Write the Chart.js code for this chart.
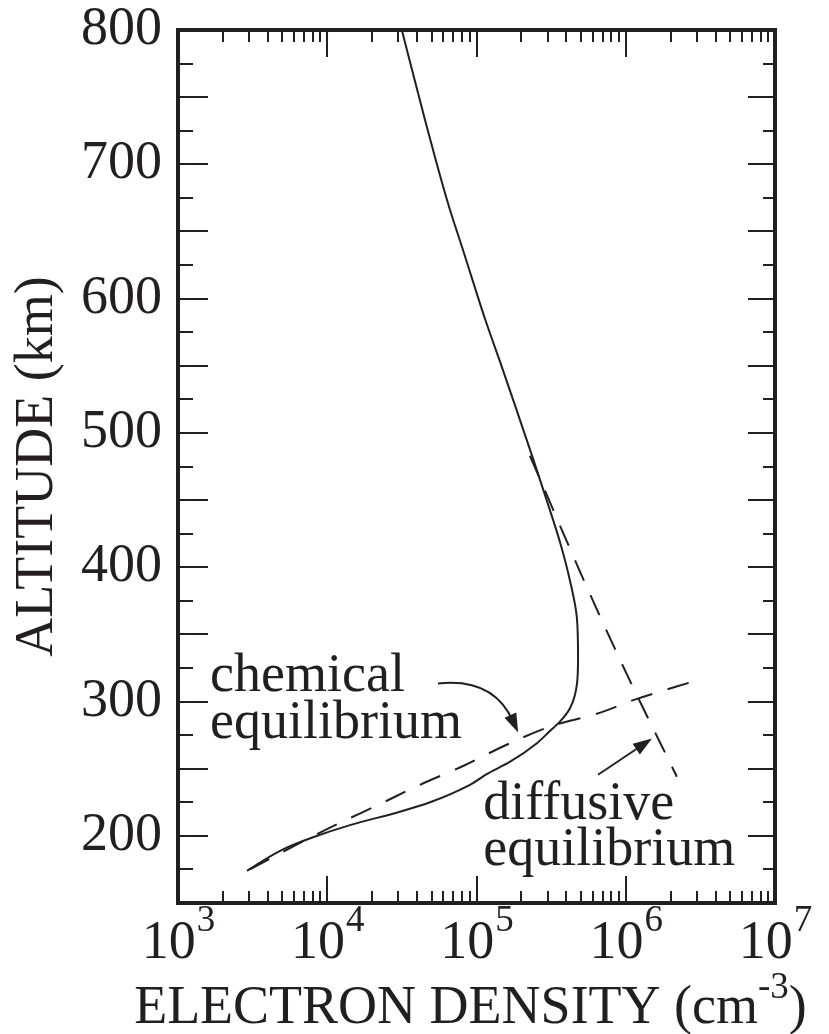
<!DOCTYPE html>
<html><head><meta charset="utf-8">
<script src="https://cdn.jsdelivr.net/npm/chart.js@4.4.1/dist/chart.umd.min.js"></script>
<style>html,body{margin:0;padding:0;background:#fff}#wrap{width:829px;height:1034px;position:relative}</style>
</head><body><div id="wrap"><canvas id="c" width="829" height="1034"></canvas></div>
<script>
// ---- data ----
const solidDensity = [3.16e4, 4.52e4, 6.44e4, 8.24e4, 1.14e5, 1.48e5, 1.87e5, 2.39e5, 2.97e5, 3.62e5, 4.23e5, 4.71e5, 4.79e5, 4.71e5, 4.23e5, 3.62e5, 3.10e5, 2.54e5, 1.67e5, 1.17e5, 9.04e4, 4.88e4, 3.07e4, 1.42e4, 8.04e3, 5.06e3, 2.90e3];
const solidAltitude = [800, 733, 671, 634, 585, 549, 516, 481, 449, 419, 390, 362, 332, 313, 295, 285, 278, 269, 255, 246, 238, 225, 218, 208, 199, 190, 174];
const chemDensity = [3.03e3, 7.78e3, 1.13e4, 2.19e4, 4.18e4, 8.13e4, 1.68e5, 3.46e5, 6.04e5, 1.19e6, 3.05e6];
const chemAltitude = [175, 199, 208, 223, 238, 252, 269, 283, 290, 302, 316];
const diffDensity = [2.28e5, 5.6e5, 1.02e6, 2.2e6];
const diffAltitude = [483, 383, 320, 244];
const xTickExponents = [3, 4, 5, 6, 7];
const yTickValues = [200, 300, 400, 500, 600, 700, 800];
const xTitleMain = 'ELECTRON DENSITY (cm';
const xTitleSup = '-3';
const xTitleEnd = ')';
const yTitle = 'ALTITUDE (km)';
const chemLabel = ['chemical', 'equilibrium'];
const diffLabel = ['diffusive', 'equilibrium'];

// annotation anchors in data coordinates [density, altitude]
const notes = {
  chemText: [1.64e3, 307.5],
  diffText: [1.11e5, 212.7],
  chemArrow: { from: [5.52e4, 313.4], ctrl: [1.30e5, 318], to: [1.90e5, 276.9] },
  diffArrow: { from: [6.52e5, 245.5], to: [1.50e6, 272.4] }
};

const INK = '#231f20';
const FONT = '"Liberation Serif", "Times New Roman", serif';

const pts = (xs, ys) => xs.map((v, i) => ({ x: v, y: ys[i] }));

const decor = {
  id: 'decor',
  afterDraw(chart) {
    const ctx = chart.ctx, xs = chart.scales.x, ys = chart.scales.y, ca = chart.chartArea;
    ctx.save();
    ctx.strokeStyle = INK; ctx.fillStyle = INK; ctx.lineCap = 'butt';
    // inward ticks
    ctx.lineWidth = 2;
    ctx.beginPath();
    for (let e = xTickExponents[0]; e < xTickExponents[xTickExponents.length - 1]; e++) {
      for (let m = 1; m <= 9; m++) {
        const v = m * Math.pow(10, e);
        if (m === 1 && e === xTickExponents[0]) continue;
        const px = Math.round(xs.getPixelForValue(v));
        const len = m === 1 ? 27 : 12;
        ctx.moveTo(px, ca.bottom); ctx.lineTo(px, ca.bottom - len);
        ctx.moveTo(px, ca.top); ctx.lineTo(px, ca.top + len);
      }
    }
    for (let v = ys.min + 25; v < ys.max; v += 25) {
      const py = Math.round(ys.getPixelForValue(v));
      const long = v % 50 === 0;
      ctx.moveTo(ca.left, py); ctx.lineTo(ca.left + (long ? 30 : 15), py);
      ctx.moveTo(ca.right, py); ctx.lineTo(ca.right - (long ? 27 : 12), py);
    }
    ctx.stroke();
    // frame
    ctx.lineWidth = 4;
    ctx.strokeRect(ca.left, ca.top, ca.right - ca.left, ca.bottom - ca.top);

    // x tick labels with superscript exponents
    ctx.textBaseline = 'alphabetic';
    ctx.textAlign = 'left';
    const big = '54px ' + FONT, small = '37px ' + FONT;
    xTickExponents.forEach(e => {
      const px = xs.getPixelForValue(Math.pow(10, e));
      ctx.font = big; const w1 = ctx.measureText('10').width;
      ctx.font = small; const w2 = ctx.measureText(String(e)).width;
      const x0 = px - (w1 + w2) / 2;
      ctx.font = big; ctx.fillText('10', x0, 958);
      ctx.font = small; ctx.fillText(String(e), x0 + w1 + 1, 931);
    });
    // x title
    ctx.font = big; const a = ctx.measureText(xTitleMain).width;
    ctx.font = small; const b = ctx.measureText(xTitleSup).width;
    ctx.font = big; const c = ctx.measureText(xTitleEnd).width;
    const tx0 = (ca.left + ca.right) / 2 - (a + b + c) / 2 - 6;
    ctx.font = big; ctx.fillText(xTitleMain, tx0, 1023);
    ctx.font = small; ctx.fillText(xTitleSup, tx0 + a, 998);
    ctx.font = big; ctx.fillText(xTitleEnd, tx0 + a + b, 1023);

    // annotation text
    ctx.font = big;
    const P = d => [xs.getPixelForValue(d[0]), ys.getPixelForValue(d[1])];
    let p = P(notes.chemText);
    ctx.fillText(chemLabel[0], p[0], p[1]);
    ctx.fillText(chemLabel[1], p[0], p[1] + 47);
    p = P(notes.diffText);
    ctx.fillText(diffLabel[0], p[0], p[1]);
    ctx.fillText(diffLabel[1], p[0], p[1] + 46);

    // arrows
    const head = (tip, ang) => {
      const L = 19, W = 6.5;
      ctx.beginPath();
      ctx.moveTo(tip[0], tip[1]);
      ctx.lineTo(tip[0] - L * Math.cos(ang) + W * Math.sin(ang), tip[1] - L * Math.sin(ang) - W * Math.cos(ang));
      ctx.lineTo(tip[0] - L * Math.cos(ang) - W * Math.sin(ang), tip[1] - L * Math.sin(ang) + W * Math.cos(ang));
      ctx.closePath(); ctx.fill();
    };
    ctx.lineWidth = 2;
    let f = P(notes.chemArrow.from), k = P(notes.chemArrow.ctrl), t = P(notes.chemArrow.to);
    let ang = Math.atan2(t[1] - k[1], t[0] - k[0]);
    ctx.beginPath(); ctx.moveTo(f[0], f[1]);
    ctx.quadraticCurveTo(k[0], k[1], t[0] - 12 * Math.cos(ang), t[1] - 12 * Math.sin(ang));
    ctx.stroke();
    head(t, ang);
    f = P(notes.diffArrow.from); t = P(notes.diffArrow.to);
    ang = Math.atan2(t[1] - f[1], t[0] - f[0]);
    ctx.beginPath(); ctx.moveTo(f[0], f[1]);
    ctx.lineTo(t[0] - 12 * Math.cos(ang), t[1] - 12 * Math.sin(ang)); ctx.stroke();
    head(t, ang);
    ctx.restore();
  }
};

new Chart(document.getElementById('c'), {
  type: 'line',
  data: {
    datasets: [
      { data: pts(solidDensity, solidAltitude), borderColor: INK, borderWidth: 2, pointRadius: 0, cubicInterpolationMode: 'monotone', fill: false },
      { data: pts(chemDensity, chemAltitude), borderColor: INK, borderWidth: 2, borderDash: [22, 16], pointRadius: 0, cubicInterpolationMode: 'monotone', fill: false },
      { data: pts(diffDensity, diffAltitude), borderColor: INK, borderWidth: 2, borderDash: [22, 16], pointRadius: 0, cubicInterpolationMode: 'monotone', fill: false }
    ]
  },
  options: {
    indexAxis: 'y',
    responsive: false,
    animation: false,
    devicePixelRatio: 1,
    layout: { padding: { left: 0, top: 30, right: 54, bottom: 0 } },
    plugins: { legend: { display: false }, tooltip: { enabled: false } },
    scales: {
      x: {
        type: 'logarithmic', min: 1e3, max: 1e7, position: 'bottom',
        ticks: { display: false },
        grid: { display: false, drawTicks: false },
        border: { display: false },
        afterFit: s => { s.height = 131; s.paddingLeft = 0; s.paddingRight = 0; }
      },
      y: {
        type: 'linear', min: 150, max: 800, position: 'left',
        afterBuildTicks: s => { s.ticks = yTickValues.map(v => ({ value: v })); },
        ticks: { color: INK, padding: 16, font: { family: FONT, size: 54, lineHeight: 1 }, callback: v => String(v) },
        grid: { display: false, drawTicks: false },
        border: { display: false },
        title: { display: true, text: yTitle, color: INK, font: { family: FONT, size: 54, lineHeight: 1.2 }, padding: { top: 5, bottom: 0 } },
        afterFit: s => { s.width = 178; s.paddingTop = 0; s.paddingBottom = 0; }
      }
    }
  },
  plugins: [decor]
});
</script></body></html>
